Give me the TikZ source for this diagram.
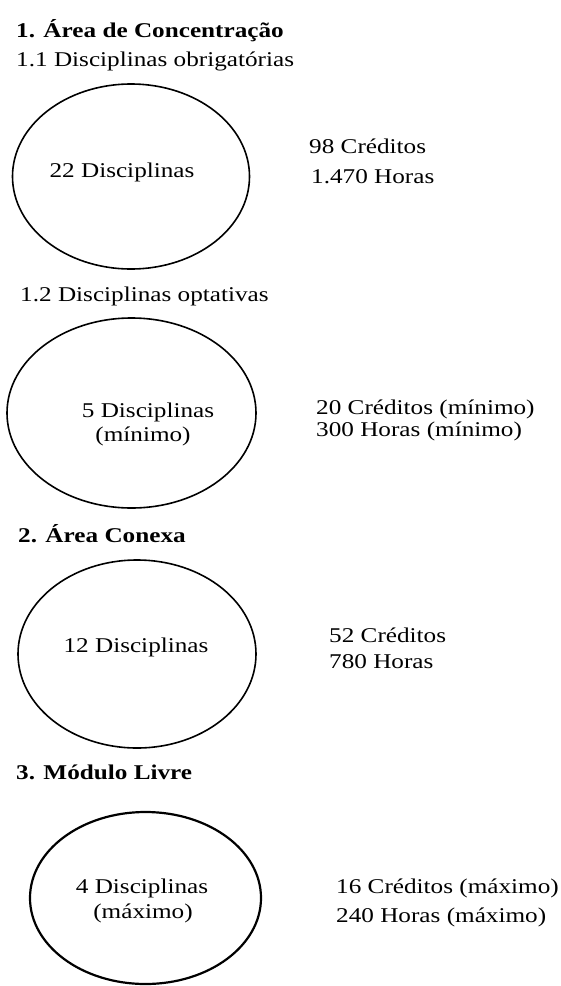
\documentclass[tikz,border=0pt]{standalone}
\usepackage{fontspec}
\setmainfont{Liberation Serif}[FakeStretch=1.2]
\usetikzlibrary{shapes.geometric}
\begin{document}
\begin{tikzpicture}[x=1pt,y=-1pt,
  ell/.style={draw,ellipse,line width=1.6pt,inner sep=0pt,outer sep=0pt},
  lbl/.style={anchor=base west,inner sep=0pt,font=\fontsize{21}{25}\selectfont},
  head/.style={lbl,font=\fontsize{21}{25}\selectfont\bfseries},
  ctr/.style={anchor=base,inner sep=0pt,font=\fontsize{21}{25}\selectfont}]
\useasboundingbox[fill=white] (0,0) rectangle (560,986);
% Section 1
\node[head] (t1) at (16,37) {1. Área de Concentração};
\node[lbl] (t11) at (16,66) {1.1 Disciplinas obrigatórias};
\node[ell,minimum width=237pt,minimum height=185pt] (e1) at (131,176.5) {};
\node[ctr] (d1) at (122,177) {22 Disciplinas};
\node[lbl] (c1) at (309,153) {98 Créditos};
\node[lbl] (h1) at (311,183) {1.470 Horas};
% Section 1.2
\node[lbl] (t12) at (20,301) {1.2 Disciplinas optativas};
\node[ell,minimum width=249pt,minimum height=190pt] (e2) at (131.5,413) {};
\node[ctr] (d2) at (148,417) {5 Disciplinas};
\node[ctr] (m2) at (143,441) {(mínimo)};
\node[lbl] (c2) at (316,414) {20 Créditos (mínimo)};
\node[lbl] (h2) at (316,436) {300 Horas (mínimo)};
% Section 2
\node[head] (t2) at (18,542) {2. Área Conexa};
\node[ell,minimum width=238pt,minimum height=188pt] (e3) at (137,654) {};
\node[ctr] (d3) at (136,652) {12 Disciplinas};
\node[lbl] (c3) at (329,642) {52 Créditos};
\node[lbl] (h3) at (329,668) {780 Horas};
% Section 3
\node[head] (t3) at (16,779) {3. Módulo Livre};
\node[ell,line width=2.2pt,minimum width=231pt,minimum height=172pt] (e4) at (145.5,898) {};
\node[ctr] (d4) at (142,893) {4 Disciplinas};
\node[ctr] (m4) at (143,918) {(máximo)};
\node[lbl] (c4) at (336,893) {16 Créditos (máximo)};
\node[lbl] (h4) at (336,922) {240 Horas (máximo)};
\end{tikzpicture}
\end{document}
